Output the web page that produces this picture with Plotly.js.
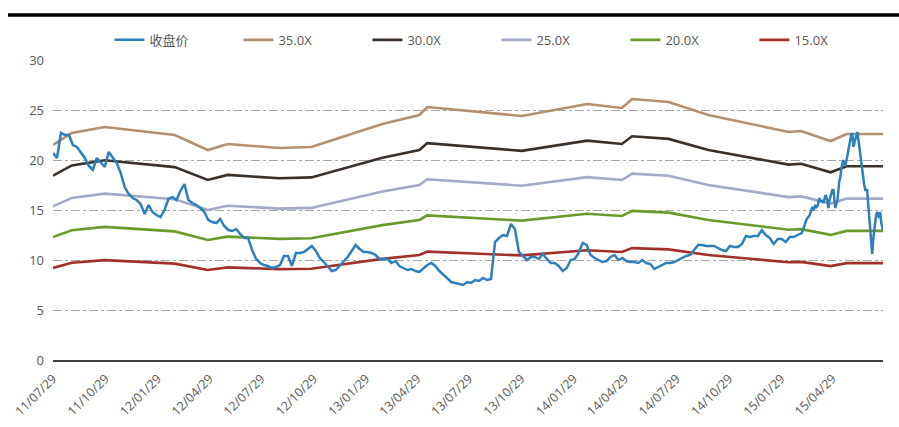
<!DOCTYPE html>
<html>
<head>
<meta charset="utf-8">
<script src="https://cdn.plot.ly/plotly-3.0.1.min.js"></script>
<style>html,body{margin:0;padding:0;background:#fff;}#chart{width:899px;height:427px;}</style>
</head>
<body>
<div id="chart"></div>
<script>
// Close price: weekly (Fridays) until 2015-03-06, then Mon/Wed/Fri
const closeDates = [
"2011-07-29","2011-08-05","2011-08-12","2011-08-19","2011-08-26","2011-09-02","2011-09-09","2011-09-16","2011-09-23","2011-09-30","2011-10-07","2011-10-14","2011-10-21","2011-10-28","2011-11-04","2011-11-11","2011-11-18","2011-11-25","2011-12-02","2011-12-09","2011-12-16","2011-12-23","2011-12-30",
"2012-01-06","2012-01-13","2012-01-20","2012-01-27","2012-02-03","2012-02-10","2012-02-17","2012-02-24","2012-03-02","2012-03-09","2012-03-16","2012-03-23","2012-03-30","2012-04-06","2012-04-13","2012-04-20","2012-04-27","2012-05-04","2012-05-11","2012-05-18","2012-05-25","2012-06-01","2012-06-08","2012-06-15","2012-06-22","2012-06-29","2012-07-06","2012-07-13","2012-07-20","2012-07-27","2012-08-03","2012-08-10","2012-08-17","2012-08-24","2012-08-31","2012-09-07","2012-09-14","2012-09-21","2012-09-28","2012-10-05","2012-10-12","2012-10-19","2012-10-26","2012-11-02","2012-11-09","2012-11-16","2012-11-23","2012-11-30","2012-12-07","2012-12-14","2012-12-21","2012-12-28",
"2013-01-04","2013-01-11","2013-01-18","2013-01-25","2013-02-01","2013-02-08","2013-02-15","2013-02-22","2013-03-01","2013-03-08","2013-03-15","2013-03-22","2013-03-29","2013-04-05","2013-04-12","2013-04-19","2013-04-26","2013-05-03","2013-05-10","2013-05-17","2013-05-24","2013-05-31","2013-06-07","2013-06-14","2013-06-21","2013-06-28","2013-07-05","2013-07-12","2013-07-19","2013-07-26","2013-08-02","2013-08-09","2013-08-16","2013-08-23","2013-08-30","2013-09-06","2013-09-13","2013-09-20","2013-09-27","2013-10-04","2013-10-11","2013-10-18","2013-10-25","2013-11-01","2013-11-08","2013-11-15","2013-11-22","2013-11-29","2013-12-06","2013-12-13","2013-12-20","2013-12-27",
"2014-01-03","2014-01-10","2014-01-17","2014-01-24","2014-01-31","2014-02-07","2014-02-14","2014-02-21","2014-02-28","2014-03-07","2014-03-14","2014-03-21","2014-03-28","2014-04-04","2014-04-11","2014-04-18","2014-04-25","2014-05-02","2014-05-09","2014-05-16","2014-05-23","2014-05-30","2014-06-06","2014-06-13","2014-06-20","2014-06-27","2014-07-04","2014-07-11","2014-07-18","2014-07-25","2014-08-01","2014-08-08","2014-08-15","2014-08-22","2014-08-29","2014-09-05","2014-09-12","2014-09-19","2014-09-26","2014-10-03","2014-10-10","2014-10-17","2014-10-24","2014-10-31","2014-11-07","2014-11-14","2014-11-21","2014-11-28","2014-12-05","2014-12-12","2014-12-19","2014-12-26",
"2015-01-02","2015-01-09","2015-01-16","2015-01-23","2015-01-30","2015-02-06","2015-02-13","2015-02-20","2015-02-27","2015-03-06",
"2015-03-09","2015-03-11","2015-03-13","2015-03-16","2015-03-18","2015-03-20","2015-03-23","2015-03-25","2015-03-27","2015-03-30",
"2015-04-01","2015-04-03","2015-04-06","2015-04-08","2015-04-10","2015-04-13","2015-04-15","2015-04-17","2015-04-20","2015-04-22","2015-04-24","2015-04-27","2015-04-29",
"2015-05-01","2015-05-04","2015-05-06","2015-05-08","2015-05-11","2015-05-13","2015-05-15","2015-05-18","2015-05-20","2015-05-22","2015-05-25","2015-05-27","2015-05-29",
"2015-06-01","2015-06-03","2015-06-05","2015-06-08","2015-06-10","2015-06-12","2015-06-15","2015-06-17","2015-06-19","2015-06-22","2015-06-24","2015-06-26","2015-06-29",
"2015-07-01","2015-07-03","2015-07-06","2015-07-08","2015-07-10","2015-07-13","2015-07-15","2015-07-17","2015-07-20","2015-07-22","2015-07-24","2015-07-27"
];
const closeValues = [
20.7,20.2,22.7,22.5,22.5,21.5,21.3,20.8,20.2,19.4,19.0,20.2,19.7,19.3,20.8,20.3,19.7,18.7,17.3,16.6,16.2,16.0,15.6,
14.6,15.5,14.8,14.5,14.3,15.0,16.1,16.3,16.0,16.9,17.6,16.0,15.7,15.5,15.2,14.8,14.0,13.8,13.7,14.1,13.4,13.0,12.9,13.1,12.6,12.2,12.2,11.0,10.1,9.7,9.5,9.4,9.2,9.3,9.5,10.4,10.4,9.4,10.7,10.7,10.8,11.1,11.4,10.9,10.2,9.8,9.3,8.9,9.0,9.4,9.8,10.3,
10.9,11.5,11.1,10.8,10.8,10.7,10.5,10.1,10.1,10.1,9.7,9.9,9.4,9.2,9.0,9.1,8.9,8.8,9.2,9.5,9.7,9.4,8.9,8.5,8.2,7.8,7.7,7.6,7.5,7.8,7.7,8.0,7.9,8.2,8.0,8.1,11.8,12.2,12.5,12.4,13.6,13.1,10.8,10.4,10.0,10.3,10.3,10.1,10.6,10.1,9.7,9.7,
9.4,8.9,9.2,10.0,10.1,10.7,11.7,11.5,10.5,10.2,10.0,9.8,9.9,10.3,10.5,10.0,10.2,9.9,9.8,9.8,9.7,10.0,9.7,9.6,9.1,9.3,9.5,9.7,9.7,9.8,10.0,10.2,10.4,10.5,11.0,11.5,11.5,11.4,11.4,11.4,11.2,11.0,10.9,11.4,11.3,11.3,11.6,12.4,12.3,12.4,12.4,13.0,
12.5,12.2,11.6,12.1,12.1,11.8,12.3,12.3,12.5,12.7,
13.1,13.5,13.8,14.2,14.3,14.5,14.9,15.3,15.0,15.5,
15.3,15.4,16.2,15.8,16.0,15.7,16.1,16.5,16.0,15.2,16.0,16.7,17.0,
17.0,15.2,15.6,16.0,17.8,18.3,19.2,20.0,19.6,19.5,20.3,21.0,21.8,
22.5,22.7,21.3,22.0,22.5,22.8,21.5,20.6,19.5,18.3,17.5,17.0,17.0,
15.6,14.0,11.8,10.6,12.2,14.0,14.5,14.8,14.2,14.8,13.7,13.0
];

// PE band knots
const bandDates = ["2011-07-29","2011-08-31","2011-10-28","2012-02-28","2012-04-26","2012-05-31","2012-08-30","2012-10-25","2013-02-27","2013-05-03","2013-05-17","2013-10-30","2014-02-22","2014-04-24","2014-05-12","2014-07-15","2014-09-23","2015-02-11","2015-03-05","2015-04-26","2015-05-24","2015-07-27"];
const pe35 = [21.5,22.7,23.3,22.5,21.0,21.6,21.2,21.3,23.6,24.5,25.3,24.4,25.6,25.2,26.1,25.8,24.5,22.8,22.9,21.9,22.6,22.6];
const pe30 = [18.43,19.46,19.97,19.29,18.00,18.51,18.17,18.26,20.23,21.00,21.69,20.91,21.94,21.60,22.37,22.11,21.00,19.54,19.63,18.77,19.37,19.37];
const pe25 = [15.36,16.21,16.64,16.07,15.00,15.43,15.14,15.21,16.86,17.50,18.07,17.43,18.29,18.00,18.64,18.43,17.50,16.29,16.36,15.64,16.14,16.14];
const pe20 = [12.29,12.97,13.31,12.86,12.00,12.34,12.11,12.17,13.49,14.00,14.46,13.94,14.63,14.40,14.91,14.74,14.00,13.03,13.09,12.51,12.91,12.91];
const pe15 = [9.21,9.73,9.99,9.64,9.00,9.26,9.09,9.13,10.11,10.50,10.84,10.46,10.97,10.80,11.19,11.06,10.50,9.77,9.81,9.39,9.69,9.69];

const seriesNames = ["收盘价","35.0X","30.0X","25.0X","20.0X","15.0X"];
const seriesColors = ["#2e7fba","#b48f70","#3b3029","#a2aac6","#6a9a2c","#a2302a"];

const tickVals = ["2011-07-29","2011-10-29","2012-01-29","2012-04-29","2012-07-29","2012-10-29","2013-01-29","2013-04-29","2013-07-29","2013-10-29","2014-01-29","2014-04-29","2014-07-29","2014-10-29","2015-01-29","2015-04-29"];
const tickText = ["11/07/29","11/10/29","12/01/29","12/04/29","12/07/29","12/10/29","13/01/29","13/04/29","13/07/29","13/10/29","14/01/29","14/04/29","14/07/29","14/10/29","15/01/29","15/04/29"];

const bands = [pe35, pe30, pe25, pe20, pe15];
const traces = [];
bands.forEach(function(vals, i){
  traces.push({
    type: "scatter", mode: "lines", x: bandDates, y: vals,
    name: seriesNames[i+1], legendrank: i+2,
    line: {color: seriesColors[i+1], width: 2.6}
  });
});
traces.push({
  type: "scatter", mode: "lines", x: closeDates, y: closeValues,
  name: seriesNames[0], legendrank: 1,
  line: {color: seriesColors[0], width: 2.5}
});

const fontFam = "Open Sans, Noto Sans CJK SC, sans-serif";
const layout = {
  width: 899, height: 427,
  margin: {l: 53, r: 16, t: 60, b: 67},
  paper_bgcolor: "#ffffff", plot_bgcolor: "#ffffff",
  font: {family: fontFam, color: "#595959", size: 12},
  showlegend: true,
  legend: {
    orientation: "h", x: 0.068, y: 1.067, xanchor: "left", yanchor: "middle",
    font: {family: fontFam, size: 13, color: "#595959"},
    entrywidth: 84, entrywidthmode: "pixels",
    bgcolor: "rgba(0,0,0,0)", traceorder: "normal"
  },
  xaxis: {
    type: "date", range: ["2011-07-29", "2015-07-27"],
    tickmode: "array", tickvals: tickVals, ticktext: tickText,
    tickangle: -45, tickfont: {size: 12.5, color: "#595959"},
    ticklabelstandoff: 5,
    showgrid: false, zeroline: false, showline: true,
    linecolor: "#404040", linewidth: 1.5, ticks: ""
  },
  yaxis: {
    range: [0, 30], tick0: 0, dtick: 5, tickmode: "linear",
    showgrid: true, gridcolor: "#a8a8a8", gridwidth: 1, griddash: "dashdot",
    zeroline: false, showline: false, ticks: "",
    tickfont: {size: 13, color: "#595959"}, ticklabelstandoff: 8
  },
  shapes: [{
    type: "line", xref: "paper", yref: "paper",
    x0: -0.0542, x1: 1.0193, y0: 1.15, y1: 1.15,
    line: {color: "#000000", width: 3.5}
  }]
};

Plotly.newPlot("chart", traces, layout, {displayModeBar: false, staticPlot: true});
</script>
</body>
</html>
